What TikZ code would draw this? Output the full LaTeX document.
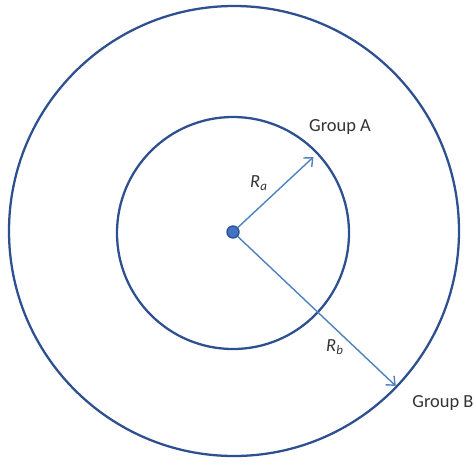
\documentclass[tikz,border=0pt]{standalone}
\usepackage{fontspec}
\setmainfont{Carlito}
\usetikzlibrary{arrows.meta, positioning, calc}
\definecolor{ring}{HTML}{2E5090}
\definecolor{ray}{HTML}{4F81BD}
\definecolor{dotfill}{HTML}{4472C4}
\definecolor{dotrim}{HTML}{2F5597}
\definecolor{ink}{HTML}{333333}
\tikzset{
  font=\fontsize{10.5}{12}\selectfont,
  >={Straight Barb[length=4pt, width=7pt]},
  %
  ringline/.style={draw=ring, line width=1.3pt},
  rayline/.style={draw=ray, line width=0.8pt, ->},
  centre/.style={circle, fill=dotfill, draw=dotrim, line width=0.8pt,
                 minimum size=2.4mm, inner sep=0pt},
  %
  lbl/.style={text=ink, inner sep=1pt},
}
\begin{document}
\begin{tikzpicture}[x=1cm, y=1cm]
  \useasboundingbox (-4.66,-4.68) rectangle (4.82,4.64);

  % --- the two groups ----------------------------------------------------
  \draw[ringline] (0.02,0.02) circle[radius=4.5];
  \draw[ringline] (0,-0.02) circle[radius=2.32];

  \node[centre] (ctr) at (0,0) {};

  % --- the radii ---------------------------------------------------------
  \coordinate (tipa) at (43:2.2);
  \coordinate (tipb) at (-43.4:4.48);
  \draw[rayline] (ctr) -- (tipa);
  \draw[rayline] (ctr) -- (tipb);

  \node[lbl] (ra) at (0.52,0.98) {\textit{R\textsubscript{a}}};
  \node[lbl] (rb) at (2.04,-2.30) {\textit{R\textsubscript{b}}};

  \node[lbl] (grpa) at (2.14,2.10) {Group A};
  \node[lbl] (grpb) at (4.2,-3.42) {Group B};

\end{tikzpicture}
\end{document}
